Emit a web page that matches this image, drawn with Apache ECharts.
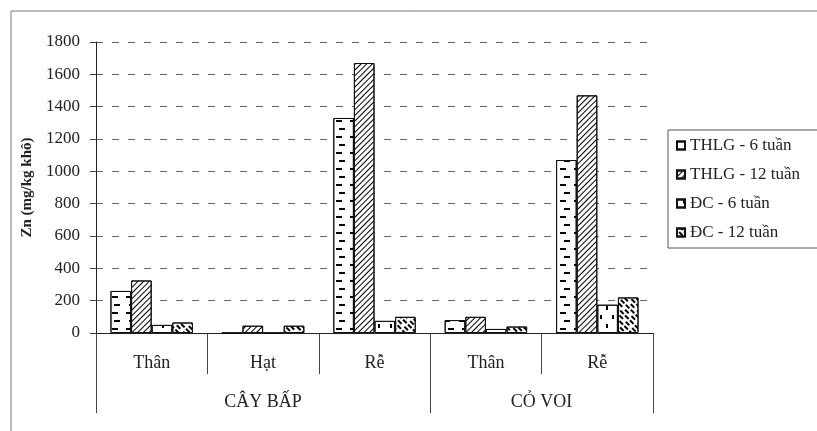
<!DOCTYPE html>
<html>
<head>
<meta charset="utf-8">
<script src="https://cdn.jsdelivr.net/npm/echarts@6/dist/echarts.min.js"></script>
<style>
html,body{margin:0;padding:0;background:#fff;}
#chart{width:817px;height:431px;}
</style>
</head>
<body>
<div id="chart"></div>
<script>
// ---- data ----
const categories = ['Thân', 'Hạt', 'Rễ', 'Thân', 'Rễ'];
const groups = ['CÂY BẤP', 'CỎ VOI'];
const groupBounds = [0, 3, 5];     // category index boundaries of the groups
const groupCenters = [1.5, 4];
const seriesNames = ['THLG - 6 tuần', 'THLG - 12 tuần', 'ĐC - 6 tuần', 'ĐC - 12 tuần'];
const thlg6  = [260, 0, 1330, 80, 1070];
const thlg12 = [325, 45, 1670, 100, 1470];
const dc6    = [50, 0, 75, 25, 175];
const dc12   = [65, 45, 100, 40, 220];
const yTicks = [0, 200, 400, 600, 800, 1000, 1200, 1400, 1600, 1800];

const values = [thlg6, thlg12, dc6, dc12];
const serif = '"Liberation Serif", "Times New Roman", serif';

const decals = [
  { symbol: 'rect', symbolSize: 1, color: '#000',
    dashArrayX: [[6, 8], [0, 9, 6, 0]], dashArrayY: [1.8, 5.5] },
  { symbol: 'rect', symbolSize: 1, color: '#000',
    dashArrayX: [1, 0], dashArrayY: [1, 3], rotation: -Math.PI / 4 },
  { symbol: 'rect', symbolSize: 1, color: '#000',
    dashArrayX: [[1.5, 10], [0, 6, 1.5, 4]], dashArrayY: [4, 5] },
  { symbol: 'rect', symbolSize: 1, color: '#000',
    dashArrayX: [[5, 2], [0, 3.5, 5, 0]], dashArrayY: [1.2, 2], rotation: Math.PI / 4 }
];

const chart = echarts.init(document.getElementById('chart'), null, { renderer: 'canvas' });

chart.setOption({
  animation: false,
  backgroundColor: '#fff',
  textStyle: { fontFamily: serif },
  graphic: [{
    type: 'rect',
    shape: { x: 11, y: 11, width: 900, height: 450 },
    style: { fill: 'none', stroke: '#777', lineWidth: 1 },
    silent: true
  }],
  legend: {
    orient: 'vertical',
    left: 668,
    top: 130,
    itemWidth: 8,
    itemHeight: 8,
    itemGap: 12,
    padding: [7, 40, 7, 8],
    borderColor: '#555',
    borderWidth: 1,
    backgroundColor: '#fff',
    icon: 'rect',
    textStyle: { fontFamily: serif, fontSize: 17, color: '#222' },
    data: seriesNames
  },
  grid: { left: 96, right: 164, top: 42, bottom: 98, containLabel: false },
  xAxis: [{
    type: 'category',
    data: categories,
    boundaryGap: true,
    axisLine: { show: true, lineStyle: { color: '#222', width: 1 } },
    axisTick: { show: true, alignWithLabel: false, interval: 0, length: 41, lineStyle: { color: '#444' } },
    axisLabel: { interval: 0, margin: 21, fontSize: 18, color: '#222', fontFamily: serif },
    splitLine: { show: false }
  }, {
    type: 'value',
    min: 0,
    max: 5,
    position: 'bottom',
    axisLine: { show: false },
    splitLine: { show: false },
    axisTick: { show: true, customValues: groupBounds, length: 80, lineStyle: { color: '#444' } },
    axisLabel: {
      show: true, customValues: groupCenters, margin: 60, fontSize: 18, color: '#222', fontFamily: serif,
      formatter: function (v) { return groups[groupCenters.indexOf(v)]; }
    }
  }],
  yAxis: {
    type: 'value',
    min: yTicks[0],
    max: yTicks[yTicks.length - 1],
    interval: 200,
    name: 'Zn (mg/kg khô)',
    nameLocation: 'middle',
    nameGap: 57,
    nameRotate: 90,
    nameTextStyle: { fontFamily: serif, fontSize: 15, fontWeight: 'bold', color: '#222' },
    axisLine: { show: true, lineStyle: { color: '#222', width: 1 } },
    axisTick: { show: true, length: 6, lineStyle: { color: '#444' } },
    axisLabel: { margin: 16, fontSize: 17, color: '#222', fontFamily: serif,
      formatter: function (v) { return String(v); } },
    splitLine: { show: true, lineStyle: { color: '#666', type: [7, 9], width: 1 } }
  },
  series: seriesNames.map(function (name, i) {
    return {
      name: name,
      type: 'bar',
      xAxisIndex: 0,
      data: values[i],
      barGap: '0%',
      barCategoryGap: '26%',
      itemStyle: { color: '#fff', borderColor: '#111', borderWidth: 1, decal: decals[i] }
    };
  })
});
</script>
</body>
</html>
